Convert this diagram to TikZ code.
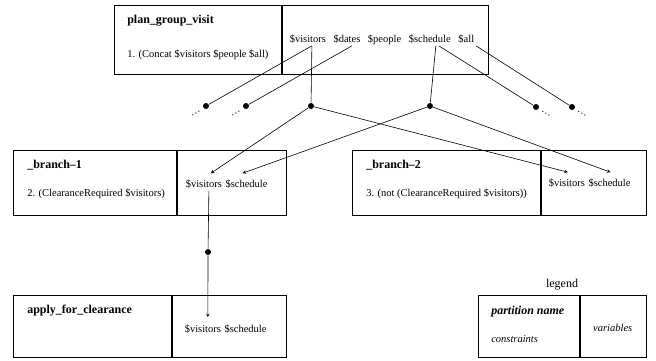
\documentclass[tikz,border=0pt]{standalone}
\usepackage{fontspec}
\setmainfont{Liberation Serif}
\usetikzlibrary{positioning}

\newcommand{\varfont}{\fontsize{10.5}{12}\selectfont}
\newcommand{\namefont}{\fontsize{12}{14}\selectfont\bfseries}

\begin{document}
\begin{tikzpicture}[
        x=1pt, y=-1pt,
        >=stealth,
        line width=0.6pt,
        cell/.style={draw, line width=0.5pt, anchor=north west, inner sep=0pt},
        heading/.style={anchor=base west, inner sep=0pt, font=\namefont},
        cons/.style={anchor=base west, inner sep=0pt, font=\varfont},
        var/.style={anchor=base west, inner sep=1.5pt, text height=7pt, text depth=2pt, font=\varfont},
        junction/.style={circle, fill, inner sep=0pt, minimum size=6pt},
        more/.style={inner sep=0pt, font=\varfont}
        ]
        \useasboundingbox (0,0) rectangle (656,360);

        % plan_group_visit
        \node[cell, minimum width=167pt, minimum height=69pt] (plan) at (114,5) {};
        \node[cell, minimum width=206pt, minimum height=69pt] (planvars) at (plan.north east) {};
        \node[heading] (plantitle) at (127,23) {plan\_group\_visit};
        \node[cons] (plancons) at (127,57) {1. (Concat \$visitors \$people \$all)};
        \node[var] (pvis) at (288,42) {\$visitors};
        \node[var, right=4pt of pvis] (pdates) {\$dates};
        \node[var, right=4pt of pdates] (ppeople) {\$people};
        \node[var, right=4pt of ppeople] (psched) {\$schedule};
        \node[var, right=4pt of psched] (pall) {\$all};

        % _branch-1
        \node[cell, minimum width=163pt, minimum height=65pt] (branchA) at (13,150) {};
        \node[cell, minimum width=109pt, minimum height=65pt] (branchAvars) at (branchA.north east) {};
        \node[heading] (branchAtitle) at (27,168) {\_branch--1};
        \node[cons] (branchAcons) at (27,196) {2. (ClearanceRequired \$visitors)};
        \node[var] (bvis) at (184,187) {\$visitors};
        \node[var, right=0pt of bvis] (bsched) {\$schedule};

        % _branch-2
        \node[cell, minimum width=188pt, minimum height=65pt] (branchB) at (352,150) {};
        \node[cell, minimum width=105pt, minimum height=65pt] (branchBvars) at (branchB.north east) {};
        \node[heading] (branchBtitle) at (366,168) {\_branch--2};
        \node[cons] (branchBcons) at (366,196) {3. (not (ClearanceRequired \$visitors))};
        \node[var] (cvis) at (547,186) {\$visitors};
        \node[var, right=0pt of cvis] (csched) {\$schedule};

        % apply_for_clearance
        \node[cell, minimum width=158pt, minimum height=62pt] (apply) at (13,295) {};
        \node[cell, minimum width=114pt, minimum height=62pt] (applyvars) at (apply.north east) {};
        \node[heading] (applytitle) at (27,313) {apply\_for\_clearance};
        \node[var] (avis) at (183,332) {\$visitors};
        \node[var, right=0pt of avis] (asched) {\$schedule};

        % legend
        \node[anchor=base, inner sep=0pt, font=\fontsize{12}{14}\selectfont] (legendlabel) at (562,287) {legend};
        \node[cell, minimum width=101pt, minimum height=62pt] (legend) at (478,295) {};
        \node[cell, minimum width=66pt, minimum height=62pt] (legendvars) at (legend.north east) {};
        \node[heading, font=\namefont\itshape] (legendtitle) at (491,314) {partition name};
        \node[cons, font=\varfont\itshape] (legendcons) at (491,342) {constraints};
        \node[font=\varfont\itshape, below=2pt of legendvars.center, anchor=center] (legendvar) {variables};

        % junctions
        \node[junction] (cut1) at (206,106) {};
        \node[junction] (cut2) at (246,106) {};
        \node[junction] (jvis) at (311,106) {};
        \node[junction] (jsched) at (430,106) {};
        \node[junction] (cut3) at (536,107) {};
        \node[junction] (cut4) at (572,107) {};
        \node[junction] (jclear) at (208,252) {};

        \node[more, rotate=30] (more1) at (196,113) {\dots};
        \node[more, rotate=30] (more2) at (236,113) {\dots};
        \node[more, rotate=-30] (more3) at (546,114) {\dots};
        \node[more, rotate=-30] (more4) at (582,114) {\dots};

        \path
              ([xshift=4pt]pvis.south) edge (jvis)
              ([xshift=4pt]pvis.south) edge (cut1)
              ([xshift=5pt]pdates.south) edge (cut2)
              ([xshift=6pt]psched.south) edge (jsched)
              ([xshift=9pt]psched.south) edge (cut3)
              (pall.south east) edge (cut4)
              ([xshift=5pt]bvis.south) edge (jclear);
        \path[->]
              (jvis) edge ([xshift=7pt,yshift=5pt]bvis.north)
              (jvis) edge ([xshift=1pt,yshift=5pt]cvis.north)
              (jsched) edge ([xshift=-4pt,yshift=5pt]bsched.north)
              (jsched) edge ([xshift=1pt,yshift=5pt]csched.north)
              (jclear) edge ([xshift=5pt,yshift=6pt]avis.north);
\end{tikzpicture}
\end{document}
